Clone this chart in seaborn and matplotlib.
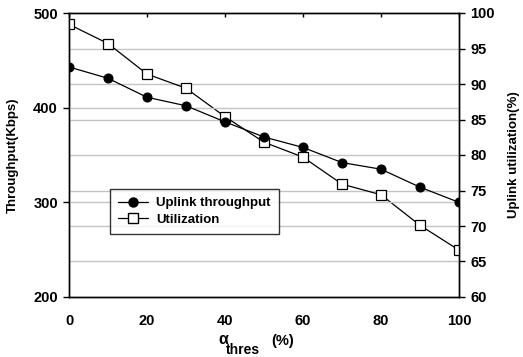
import matplotlib
matplotlib.use("Agg")
import matplotlib.pyplot as plt
import seaborn as sns
import pandas as pd
from matplotlib.lines import Line2D

alpha_thres = [0, 10, 20, 30, 40, 50, 60, 70, 80, 90, 100]
throughput = [443, 431, 411, 402, 385, 369, 358, 342, 335, 316, 300]
utilization = [98.4, 95.7, 91.4, 89.4, 85.4, 81.8, 79.7, 75.9, 74.4, 70.1, 66.6]

sns.set_theme(style="white")
plt.rcParams['font.family'] = ['Liberation Sans', 'DejaVu Sans']
plt.rcParams['font.weight'] = 'bold'
plt.rcParams['text.color'] = 'black'
plt.rcParams['axes.labelcolor'] = 'black'
plt.rcParams['xtick.color'] = 'black'
plt.rcParams['ytick.color'] = 'black'

df = pd.DataFrame({"x": alpha_thres, "tp": throughput, "ut": utilization})

fig = plt.figure(figsize=(5.23, 3.57), dpi=100)
ax = fig.add_axes([69/523, 1-297/357, 390/523, 284/357])
ax2 = ax.twinx()

# gridlines for both axes (drawn behind)
for v in [95, 90, 85, 80, 75, 70, 65]:
    ax2.axhline(v, color="#c4c4c4", lw=1, zorder=0)
for v in [400, 300]:
    ax.axhline(v, color="#c4c4c4", lw=1, zorder=0)

sns.lineplot(data=df, x="x", y="tp", ax=ax, color="black", lw=0.9,
             marker="o", markersize=6.5, markerfacecolor="black",
             markeredgecolor="black", zorder=3)
sns.lineplot(data=df, x="x", y="ut", ax=ax2, color="black", lw=0.9,
             marker="s", markersize=6.5, markerfacecolor="white",
             markeredgecolor="black", markeredgewidth=0.9, zorder=3)

ax.set_xlim(0, 100)
ax.set_ylim(200, 500)
ax2.set_ylim(60, 100)
ax.set_xticks([0, 20, 40, 60, 80, 100])
ax.set_yticks([200, 300, 400, 500])
ax2.set_yticks([60, 65, 70, 75, 80, 85, 90, 95, 100])

for a in (ax, ax2):
    for s in a.spines.values():
        s.set_color("black")
        s.set_linewidth(1)
ax.tick_params(axis="x", direction="out", length=4, width=1, color="black",
               labelsize=10.5, pad=8, labelcolor="black")
ax.tick_params(axis="y", direction="out", length=4, width=1, color="black",
               labelsize=10.5, pad=4, left=True, labelcolor="black")
ax2.tick_params(axis="y", direction="out", length=4, width=1, color="black",
                labelsize=10.5, pad=4, right=True, labelcolor="black")
for lab in ax.get_xticklabels() + ax.get_yticklabels() + ax2.get_yticklabels():
    lab.set_fontweight("bold")

# inward ticks along the top spine
top = ax.secondary_xaxis("top")
top.set_xticks([0, 20, 40, 60, 80, 100])
top.tick_params(axis="x", direction="in", length=3, width=1, color="black",
                labeltop=False)
top.spines["top"].set_visible(False)

ax.set_xlabel("")
ax.set_ylabel("Throughput(Kbps)", fontsize=9.5, fontweight="bold", labelpad=10,
              color="black")
ax2.set_ylabel("Uplink utilization(%)", fontsize=9.5, fontweight="bold",
               labelpad=10, color="black")

fig.text(218/523, 10/357, "\u03b1", fontsize=11.5, fontweight="bold",
         ha="left", va="bottom")
fig.text(226/523, 0.0, "thres", fontsize=10, fontweight="bold",
         ha="left", va="bottom")
fig.text(271/523, 9/357, "(%)", fontsize=10.5, fontweight="bold",
         ha="left", va="bottom")

handles = [
    Line2D([], [], color="black", lw=0.9, marker="o", markersize=6.5,
           markerfacecolor="black", markeredgecolor="black"),
    Line2D([], [], color="black", lw=0.9, marker="s", markersize=6.5,
           markerfacecolor="white", markeredgecolor="black"),
]
leg = ax.legend(handles, ["Uplink throughput", "Utilization"],
                loc="lower left", bbox_to_anchor=(0.105, 0.222),
                fontsize=9.5, frameon=True, fancybox=False, handlelength=2.3,
                borderpad=0.6, labelspacing=0.35, handletextpad=0.6,
                borderaxespad=0)
leg.get_frame().set_edgecolor("black")
leg.get_frame().set_linewidth(1)
for t in leg.get_texts():
    t.set_fontweight("bold")
    t.set_color("black")
leg.set_zorder(5)
ax.set_zorder(ax2.get_zorder() + 1)
ax.patch.set_visible(False)

fig.savefig("out.png", dpi=100)
